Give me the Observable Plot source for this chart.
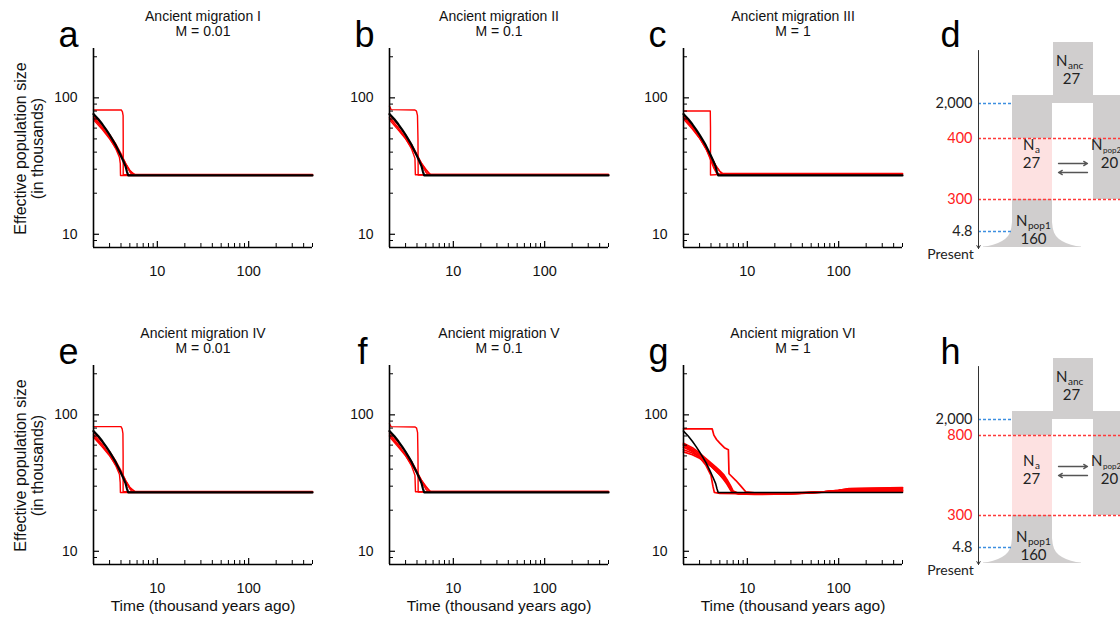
<!DOCTYPE html>
<html><head><meta charset="utf-8">
<script src="https://cdn.jsdelivr.net/npm/d3@7"></script>
<script src="https://cdn.jsdelivr.net/npm/@observablehq/plot@0.6"></script>
<style>
html,body{margin:0;padding:0;background:#fff;overflow:hidden;}
#fig{position:relative;width:1120px;height:619px;overflow:hidden;font-family:"Liberation Sans",Arial,sans-serif;}
#fig > svg{position:absolute;display:block;}
</style></head><body><div id="fig"></div>
<script>
// ---------------- DATA ----------------
const panelTitles = ["Ancient migration I","Ancient migration II","Ancient migration III","Ancient migration IV","Ancient migration V","Ancient migration VI"];
const migrationRates = ["0.01","0.1","1","0.01","0.1","1"];
const panelLetters = ["a","b","c","d","e","f","g","h"];
const xTickLabels = [10, 100];
const yTickLabels = [10, 100];
const xMinorTicks = [3,4,5,6,7,8,9,20,30,40,50,60,70,80,90,200,300,400,500];
const yMinorTicks = [9,20,30,40,50,60,70,80,90,200];
const xAxisTitle = "Time (thousand years ago)";
const yAxisTitle = ["Effective population size","(in thousands)"];

// true (simulated) model: [time (kya), Ne (thousands)]
const trueModel = [[2,76],[2.25,70],[2.5,64],[2.75,58.5],[3,53.5],[3.25,49],[3.5,45],[3.75,41],[4,37.5],[4.25,34.3],[4.5,31.3],[4.65,28.7],[4.8,27],[500,27]];

// inferred histories (red), per panel
const redA = [
  [[2,81.5],[4.03,81.5],[4.15,79],[4.22,74],[4.23,50],[4.23,27.3],[500,27.3]],
  [[2,73],[2.5,61],[3,51],[3.5,42.5],[3.85,36.5],[3.93,33],[3.95,27],[500,27]],
  [[2,75],[2.5,63.5],[3,54],[3.5,46],[4,39],[4.5,33],[5,28.6],[5.3,27.3],[500,27.3]],
  [[2,71],[2.5,60],[3,51.5],[3.5,44],[4,38],[4.5,33],[5,29.5],[5.5,27.5],[500,27.5]],
  [[2,69],[2.5,58.5],[3,50],[3.5,43],[4,37],[4.5,32.5],[5,29],[5.8,27.2],[500,27.2]]
];
const redB = [
  [[2,87],[2.08,82],[3.8,81.5],[3.95,80],[4.05,74],[4.1,50],[4.12,27.2],[500,27.2]],
  [[2,72],[2.5,60],[3,50.5],[3.5,42],[3.8,36],[3.84,27.3],[500,27.3]],
  [[2,75],[2.5,63],[3,53.5],[3.5,45.5],[4,38.5],[4.5,32.5],[5,28.5],[5.3,27.4],[500,27.4]],
  [[2,71],[2.5,60],[3,51],[3.5,44],[4,38],[4.5,33],[5,29.5],[5.6,27.5],[500,27.5]],
  [[2,69],[2.5,58],[3,50],[3.5,43],[4,37.5],[4.5,33],[5,30],[5.6,27.2],[500,27.2]]
];
const redC = [
  [[2,80],[3.93,80],[3.95,60],[3.95,27.2],[5.3,27.5],[500,27.8]],
  [[2,73],[2.5,61],[3,51],[3.5,43],[3.9,36],[4.3,30.5],[4.6,28],[4.7,27.4],[500,27.6]],
  [[2,74],[2.5,62],[3,52.5],[3.5,44.5],[4,37.5],[4.5,32],[5,28.8],[5.3,27.8],[500,27.8]],
  [[2,70],[2.5,59],[3,50.5],[3.5,43],[4,37],[4.5,32],[5,29],[5.4,27.9],[500,27.9]],
  [[2,72],[2.5,60.5],[3,51],[3.5,42.5],[4,35.5],[4.4,30.5],[4.7,27.7],[500,27.7]]
];
const redE = [
  [[2,82],[4.0,82],[4.12,79],[4.2,73],[4.22,50],[4.22,27.3],[500,27.3]],
  [[2,72],[2.5,60.5],[3,51],[3.5,42.5],[3.85,36.5],[3.92,32],[3.94,27],[500,27]],
  [[2,75],[2.5,63],[3,54],[3.5,46],[4,39],[4.5,33],[5,28.7],[5.3,27.3],[500,27.3]],
  [[2,70],[2.5,59.5],[3,51],[3.5,44],[4,38],[4.5,33],[5,29.5],[5.6,27.5],[500,27.5]],
  [[2,68.5],[2.5,58],[3,50],[3.5,43],[4,37],[4.5,32.5],[5,29],[5.8,27.2],[500,27.2]]
];
const redF = [
  [[2,86],[2.08,82],[3.82,81.5],[3.96,80],[4.06,74],[4.1,50],[4.12,27.2],[500,27.2]],
  [[2,72.5],[2.5,60.5],[3,50.5],[3.5,42],[3.8,36],[3.85,27.3],[500,27.3]],
  [[2,75],[2.5,63],[3,53.5],[3.5,45.5],[4,38.5],[4.5,32.5],[5,28.5],[5.3,27.4],[500,27.4]],
  [[2,70.5],[2.5,59.5],[3,51],[3.5,44],[4,38],[4.5,33],[5,29.5],[5.6,27.5],[500,27.5]],
  [[2,69],[2.5,58],[3,50],[3.5,43],[4,37.5],[4.5,33],[5,30],[5.6,27.2],[500,27.2]]
];
const redG = [
  [[2,79],[4.12,79],[4.3,71],[4.6,66],[5.0,62],[5.6,57.5],[6.2,55.5],[6.3,37],[7.5,33],[8.5,30],[9.6,27.3],[12,26.8],[30,26.8],[70,27.3],[100,28],[130,28.8],[500,29.3]],
  [[2,62],[2.5,57.5],[3,52.5],[3.5,48],[4,44.5],[4.5,41.5],[5,39],[5.5,36.5],[6,33.5],[6.5,30.5],[7,27.6],[8,26.6],[12,26.3],[20,26.4],[40,26.8],[70,27.4],[100,28.0],[130,28.7],[500,29.2]],
  [[2,60.5],[2.5,56],[3,51],[3.5,47],[4,43.5],[4.5,40.5],[5,38],[5.5,35.5],[6,32.8],[6.5,29.8],[6.9,27.4],[8,26.5],[12,26.2],[20,26.3],[40,26.7],[70,27.3],[100,27.9],[130,28.5],[500,28.8]],
  [[2,58],[2.5,54],[3,49.5],[3.5,45.5],[4,42],[4.5,39],[5,36.5],[5.5,34],[6,31.5],[6.5,28.7],[6.8,27],[8,26.3],[12,26.1],[20,26.2],[40,26.6],[70,27.2],[100,27.8],[130,28.3],[500,28.4]],
  [[2,55.5],[2.5,52.5],[3,49],[3.5,45.5],[4,42.5],[4.5,40],[5,37.5],[5.5,35],[6,32.3],[6.6,28.8],[7,27],[8,26.4],[12,26.2],[30,26.4],[60,27],[100,27.7],[130,28.2],[500,28]],
  [[2,53.5],[2.5,51],[3,48],[3.5,45],[4,42],[4.5,39],[5,36.3],[5.5,33.6],[6,31],[6.5,28.3],[6.9,27.1],[8,26.5],[12,26.3],[30,26.5],[60,27.1],[100,27.6],[500,27.7]],
  [[2,60],[2.5,54.5],[3,49],[3.5,43],[4,36],[4.2,30],[4.35,27],[5,26.6],[8,26.4],[12,26.2],[30,26.5],[70,27.1],[100,27.6],[500,27.6]]
];

// schematic (panels d, h)
const schemTimesD = ["2,000","400","300","4.8"];
const schemTimesH = ["2,000","800","300","4.8"];
const popNames = ["anc","a","pop2","pop1"];
const popSizes = ["27","27","20","160"];
const presentLabel = "Present";

// ---------------- LAYOUT ----------------
const fig = document.getElementById("fig");
const FONT = "'Liberation Sans', Arial, sans-serif";
const X_DOMAIN = [2, 500], Y_DOMAIN = [8, 230];
const PW = 219, PH = 199, ML = 50, MR = 11, MT = 8, MB = 40;
const colLeft = [93, 389, 683];
const rowTop = [48, 365];

function place(svg, left, top) {
  svg.style.left = left + "px";
  svg.style.top = top + "px";
  fig.appendChild(svg);
}

function chart(red, left, top, blackW, redW) {
  const pxDecX = PW / Math.log10(X_DOMAIN[1] / X_DOMAIN[0]);
  const pxDecY = PH / Math.log10(Y_DOMAIN[1] / Y_DOMAIN[0]);
  const xLen = len => X_DOMAIN[0] * Math.pow(10, len / pxDecX);
  const yLen = len => Y_DOMAIN[0] * Math.pow(10, len / pxDecY);
  const redRows = red.flatMap((s, i) => s.map(([t, n]) => ({t, n, id: i})));
  const blackRows = trueModel.map(([t, n]) => ({t, n}));
  const svg = Plot.plot({
    width: ML + PW + MR, height: MT + PH + MB,
    marginLeft: ML, marginRight: MR, marginTop: MT, marginBottom: MB,
    x: {type: "log", domain: X_DOMAIN, axis: null},
    y: {type: "log", domain: Y_DOMAIN, axis: null},
    style: {background: "transparent", fontFamily: FONT, overflow: "visible"},
    marks: [
      Plot.line(redRows, {x: "t", y: "n", z: "id", stroke: "#ff0000", strokeWidth: redW}),
      Plot.line(blackRows, {x: "t", y: "n", stroke: "#000", strokeWidth: blackW}),
      Plot.ruleY(yMinorTicks, {y: d => d, x1: X_DOMAIN[0], x2: xLen(4), stroke: "#000", strokeWidth: 1}),
      Plot.ruleY(yTickLabels, {y: d => d, x1: X_DOMAIN[0], x2: xLen(6), stroke: "#000", strokeWidth: 1.2}),
      Plot.ruleX(xMinorTicks, {x: d => d, y1: Y_DOMAIN[0], y2: yLen(4), stroke: "#000", strokeWidth: 1}),
      Plot.ruleX(xTickLabels, {x: d => d, y1: Y_DOMAIN[0], y2: yLen(6), stroke: "#000", strokeWidth: 1.2}),
      Plot.ruleX([X_DOMAIN[0]], {stroke: "#000", strokeWidth: 1.6}),
      Plot.ruleY([Y_DOMAIN[0]], {stroke: "#000", strokeWidth: 1.6}),
      Plot.text(yTickLabels, {x: X_DOMAIN[0], y: d => d, text: d => String(d), textAnchor: "end", dx: -16, fontSize: 14, fill: "#111"}),
      Plot.text(xTickLabels, {x: d => d, y: Y_DOMAIN[0], text: d => String(d), dy: 24, fontSize: 14.5, fill: "#111"})
    ]
  });
  place(svg, left - ML, top - MT);
}

const reds = [redA, redB, redC, redE, redF, redG];
reds.forEach((r, i) => {
  const row = Math.floor(i / 3), col = i % 3;
  chart(r, colLeft[col], rowTop[row], i === 5 ? 1.6 : 2.2, i === 5 ? 1.7 : 1.4);
});

// ---------------- SCHEMATIC ----------------
function schematic(times, upperY, arrowY, left, top) {
  const W = 220, H = 300;
  const gray = "#d0cece", pink = "#fde1e1", blue = "#3d8fe0", redD = "#ff3a3a";
  const rects = [
    {x1: 153, x2: 193, y1: 42, y2: 96, fill: gray},
    {x1: 112, x2: 220, y1: 95, y2: 103, fill: gray},
    {x1: 112, x2: 152, y1: 102, y2: upperY, fill: gray},
    {x1: 112, x2: 152, y1: upperY, y2: 199, fill: pink},
    {x1: 112, x2: 152, y1: 199, y2: 247, fill: gray},
    {x1: 193, x2: 220, y1: 102, y2: 199, fill: gray}
  ];
  const flare = [[83,246.6],[88,246],[93,244.8],[98,243],[102,241],[105,239],[108,236],[110,232.5],[111.3,228],[112,222],
                 [152,222],[152.7,228],[154,232.5],[156,236],[159,239],[162,241],[166,243],[171,244.8],[176,246],[181,246.6]]
                 .map(([x, y]) => ({x, y}));
  const levels = [
    {label: times[0], y: 103, color: blue, x2: 112, text: "#222"},
    {label: times[1], y: upperY, color: redD, x2: 220, text: "#ff2020"},
    {label: times[2], y: 199, color: redD, x2: 220, text: "#ff2020"},
    {label: times[3], y: 231, color: blue, x2: 111, text: "#222"}
  ];
  const popPos = [
    {x: 167, yN: 65, ySize: 83, sx: 171, sub: 10},
    {x: 134, yN: 149, ySize: 167, sx: 131, sub: 10},
    {x: 202, yN: 149, ySize: 167, sx: 209, sub: 8},
    {x: 127, yN: 225, ySize: 243, sx: 133, sub: 10}
  ];
  const pops = popNames.map((name, i) => ({name, size: popSizes[i], ...popPos[i]}));
  const migArrows = [
    {x1: 158, x2: 187, y: arrowY},
    {x1: 187, x2: 158, y: arrowY + 9}
  ];
  const TF = "Lato, 'Liberation Sans', sans-serif";
  const svg = Plot.plot({
    width: W, height: H, margin: 0,
    x: {domain: [0, W], range: [0, W], axis: null},
    y: {domain: [0, H], range: [0, H], axis: null},
    style: {background: "transparent", fontFamily: TF},
    marks: [
      Plot.rect(rects, {x1: "x1", x2: "x2", y1: "y1", y2: "y2", fill: "fill"}),
      Plot.areaY(flare, {x: "x", y1: 247, y2: "y", fill: gray}),
      Plot.ruleY(levels, {y: "y", x1: 78, x2: "x2", stroke: "color", strokeWidth: 1.3, strokeDasharray: "3,2"}),
      Plot.arrow([{x: 78, y1: 50, y2: 248}], {x1: "x", x2: "x", y1: "y1", y2: "y2", stroke: "#333", strokeWidth: 1, headLength: 5}),
      Plot.text(levels, {x: 72, y: "y", text: "label", textAnchor: "end", fill: "text", fontSize: 14.5, fontFamily: TF}),
      Plot.text([presentLabel], {x: 50, y: 254, text: d => d, fontSize: 14, fill: "#222", fontFamily: TF}),
      Plot.arrow(migArrows, {x1: "x1", x2: "x2", y1: "y", y2: "y", stroke: "#555", strokeWidth: 1.3, headLength: 5}),
      Plot.text(pops, {x: "x", y: "yN", text: () => "N", textAnchor: "end", lineAnchor: "bottom", fontSize: 15, fill: "#222", fontFamily: TF}),
      Plot.text(pops, {x: "x", y: "yN", text: "name", textAnchor: "start", lineAnchor: "bottom", dy: 3, dx: 0.5, fontSize: d => d.sub, fill: "#222", fontFamily: TF}),
      Plot.text(pops, {x: "sx", y: "ySize", text: "size", lineAnchor: "bottom", fontSize: 15, fill: "#222", fontFamily: TF})
    ]
  });
  place(svg, left, top);
}
schematic(schemTimesD, 138, 163, 900, 0);
schematic(schemTimesH, 119, 150, 900, 316);

// ---------------- ANNOTATIONS ----------------
const colCenter = colLeft.map(l => l + PW / 2);
const titleRows = panelTitles.map((t, i) => ({
  title: t, m: "M = " + migrationRates[i],
  x: colCenter[i % 3], dyRow: Math.floor(i / 3) * 317
}));
const letterX = [58, 354, 648, 940, 58, 357, 648, 940];
const letters = panelLetters.map((l, i) => ({l, x: letterX[i], y: 46 + Math.floor(i / 4) * 317}));
const yTitleRows = [0, 317].flatMap(off => yAxisTitle.map((t, j) => ({t, x: j === 0 ? 20 : 37, y: 148 + off})));
const xTitleRows = colCenter.map(x => ({t: xAxisTitle, x, y: 610}));

const overlay = Plot.plot({
  width: 1120, height: 619, margin: 0,
  x: {domain: [0, 1120], range: [0, 1120], axis: null},
  y: {domain: [0, 619], range: [0, 619], axis: null},
  style: {background: "transparent", fontFamily: FONT, pointerEvents: "none"},
  marks: [
    Plot.text(titleRows, {x: "x", y: d => 20 + d.dyRow, text: "title", lineAnchor: "bottom", fontSize: 14, fill: "#111", fontFamily: FONT}),
    Plot.text(titleRows, {x: "x", y: d => 35 + d.dyRow, text: "m", lineAnchor: "bottom", fontSize: 14, fill: "#111", fontFamily: FONT}),
    Plot.text(letters, {x: "x", y: "y", text: "l", textAnchor: "start", lineAnchor: "bottom", fontSize: 36, fill: "#000", fontFamily: FONT}),
    Plot.text(yTitleRows, {x: "x", y: "y", text: "t", rotate: -90, fontSize: 16, fill: "#111", fontFamily: FONT}),
    Plot.text(xTitleRows, {x: "x", y: "y", text: "t", lineAnchor: "bottom", fontSize: 15.5, fill: "#111", fontFamily: FONT})
  ]
});
place(overlay, 0, 0);
</script></body></html>
